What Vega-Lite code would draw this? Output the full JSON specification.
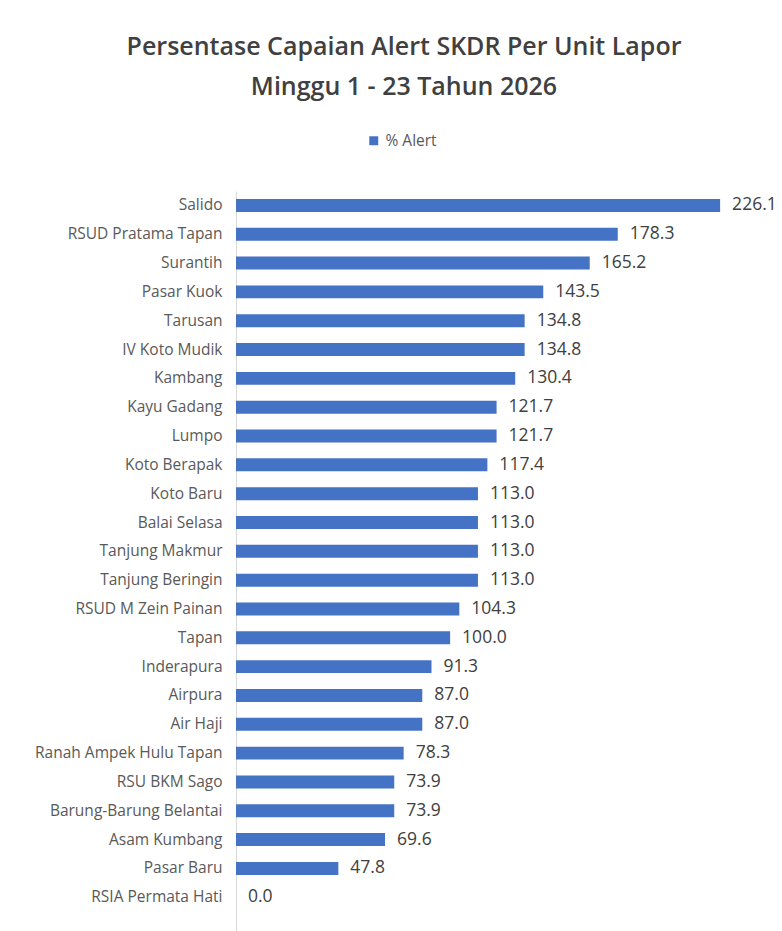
{
  "$schema": "https://vega.github.io/schema/vega-lite/v6.json",
  "width": 546,
  "height": 740,
  "autosize": {"type": "none"},
  "padding": {"left": 236, "top": 191, "right": 0, "bottom": 0},
  "background": "white",
  "title": {
    "text": ["Persentase Capaian Alert SKDR Per Unit Lapor", "Minggu 1 - 23 Tahun 2026"],
    "anchor": "middle",
    "frame": "group",
    "dx": -105,
    "offset": 33,
    "font": "Open Sans",
    "fontSize": 25,
    "fontWeight": 600,
    "color": "#404040",
    "lineHeight": 40
  },
  "data": {
    "values": [
      {"unit": "Salido", "alert": 226.1, "series": "% Alert"},
      {"unit": "RSUD Pratama Tapan", "alert": 178.3, "series": "% Alert"},
      {"unit": "Surantih", "alert": 165.2, "series": "% Alert"},
      {"unit": "Pasar Kuok", "alert": 143.5, "series": "% Alert"},
      {"unit": "Tarusan", "alert": 134.8, "series": "% Alert"},
      {"unit": "IV Koto Mudik", "alert": 134.8, "series": "% Alert"},
      {"unit": "Kambang", "alert": 130.4, "series": "% Alert"},
      {"unit": "Kayu Gadang", "alert": 121.7, "series": "% Alert"},
      {"unit": "Lumpo", "alert": 121.7, "series": "% Alert"},
      {"unit": "Koto Berapak", "alert": 117.4, "series": "% Alert"},
      {"unit": "Koto Baru", "alert": 113.0, "series": "% Alert"},
      {"unit": "Balai Selasa", "alert": 113.0, "series": "% Alert"},
      {"unit": "Tanjung Makmur", "alert": 113.0, "series": "% Alert"},
      {"unit": "Tanjung Beringin", "alert": 113.0, "series": "% Alert"},
      {"unit": "RSUD M Zein Painan", "alert": 104.3, "series": "% Alert"},
      {"unit": "Tapan", "alert": 100.0, "series": "% Alert"},
      {"unit": "Inderapura", "alert": 91.3, "series": "% Alert"},
      {"unit": "Airpura", "alert": 87.0, "series": "% Alert"},
      {"unit": "Air Haji", "alert": 87.0, "series": "% Alert"},
      {"unit": "Ranah Ampek Hulu Tapan", "alert": 78.3, "series": "% Alert"},
      {"unit": "RSU BKM Sago", "alert": 73.9, "series": "% Alert"},
      {"unit": "Barung-Barung Belantai", "alert": 73.9, "series": "% Alert"},
      {"unit": "Asam Kumbang", "alert": 69.6, "series": "% Alert"},
      {"unit": "Pasar Baru", "alert": 47.8, "series": "% Alert"},
      {"unit": "RSIA Permata Hati", "alert": 0.0, "series": "% Alert"}
    ]
  },
  "encoding": {
    "y": {
      "field": "unit",
      "type": "nominal",
      "sort": null,
      "scale": {"paddingInner": 0.55, "paddingOuter": 0.61, "align": 0.225},
      "axis": {
        "title": null,
        "ticks": false,
        "labelPadding": 14,
        "labelFont": "Open Sans",
        "labelFontSize": 15.5,
        "labelColor": "#595959",
        "domainColor": "#d9d9d9",
        "labelLimit": 300
      }
    },
    "x": {
      "field": "alert",
      "type": "quantitative",
      "scale": {"domain": [0, 255], "nice": false},
      "axis": null
    }
  },
  "layer": [
    {
      "mark": {"type": "bar", "color": "#4472C4"},
      "encoding": {
        "color": {
          "field": "series",
          "type": "nominal",
          "scale": {"range": ["#4472C4"]},
          "legend": {
            "title": null,
            "orient": "none",
            "legendX": 130,
            "legendY": -58,
            "symbolType": "square",
            "symbolSize": 80,
            "labelFont": "Open Sans",
            "labelFontSize": 15.5,
            "labelColor": "#595959"
          }
        }
      }
    },
    {
      "mark": {"type": "text", "align": "left", "baseline": "middle", "dx": 12, "font": "Open Sans", "fontSize": 17.5, "color": "#404040"},
      "encoding": {
        "text": {"field": "alert", "type": "quantitative", "format": ".1f"}
      }
    }
  ],
  "config": {"view": {"stroke": null}}
}
